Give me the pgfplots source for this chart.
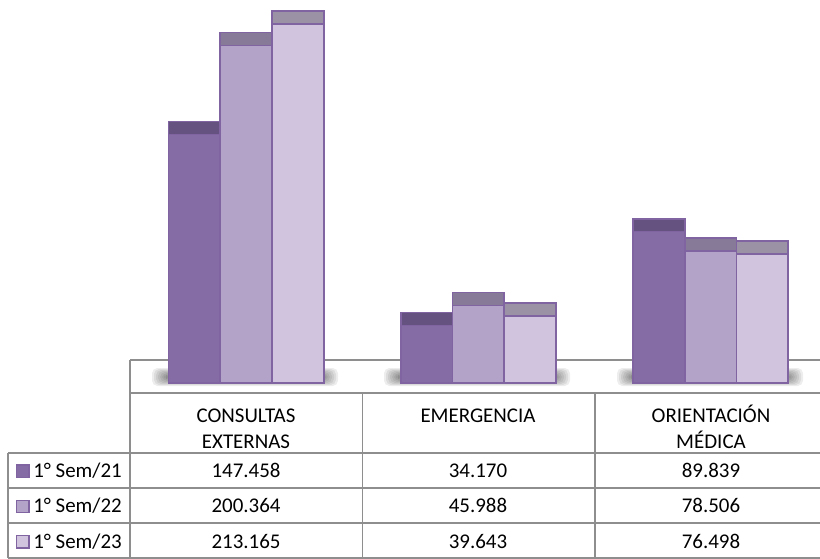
\documentclass[border=0pt]{standalone}
\usepackage{fontspec}
\setmainfont{Carlito}
\usepackage{pgfplots}
\usepackage{pgfplotstable}
\pgfplotsset{compat=1.18}

\definecolor{edge}{HTML}{8064A2}
\definecolor{sa}{HTML}{866CA5}
\definecolor{sb}{HTML}{B4A3C9}
\definecolor{sc}{HTML}{D0C4DE}
\definecolor{ca}{HTML}{665280}
\definecolor{cb}{HTML}{877A98}
\definecolor{cc}{HTML}{9C92A6}
\definecolor{rule}{HTML}{8E8E8E}

% values in thousands, first semester of each year
\pgfplotstableread{
x  s21     s22     s23
0  147.458 200.364 213.165
1  34.170  45.988  39.643
2  89.839  78.506  76.498
}\datos

\begin{document}
\begin{tikzpicture}[x=0.75pt,y=-0.75pt,
  every node/.style={inner sep=0pt,font=\fontsize{15.7}{19}\selectfont}]
\useasboundingbox (0,0) rectangle (820,559);

% floor of the 3d chart
\draw[rule, line width=1.2pt] (130,360) -- (822,360);
\draw[rule, line width=1.2pt] (130,360) -- (130,558);

% soft shadows under the groups
\foreach \c in {246,478,711} {
  \foreach \k in {0,1,...,7} {
    \fill[black, opacity=0.07, rounded corners=4pt]
      (\c-94+2*\k,368+\k) rectangle (\c+92-2*\k,386-\k);
  }
}

% axis corner at pixel (130,383)
\begin{axis}[at={(97.5pt,-287.25pt)}, anchor=south west,
    width=517.5pt, height=287.25pt, scale only axis,
    hide axis, clip=false,
    xmin=-0.5, xmax=2.471, ymin=0, ymax=227.3]
  % top faces (drawn first, the fronts cover their lower part)
  \addplot[ybar, bar width=0.223, bar shift=-0.223, fill=ca, draw=edge, line width=1.3pt]
    table[x=x, y expr=\thisrow{s21}+7.7] {\datos};
  \addplot[ybar, bar width=0.223, bar shift=0, fill=cb, draw=edge, line width=1.3pt]
    table[x=x, y expr=\thisrow{s22}+7.7] {\datos};
  \addplot[ybar, bar width=0.223, bar shift=0.223, fill=cc, draw=edge, line width=1.3pt]
    table[x=x, y expr=\thisrow{s23}+7.7] {\datos};
  % front faces
  \addplot[ybar, bar width=0.223, bar shift=-0.223, fill=sa, draw=edge, line width=1.3pt]
    table[x=x, y=s21] {\datos};
  \addplot[ybar, bar width=0.223, bar shift=0, fill=sb, draw=edge, line width=1.3pt]
    table[x=x, y=s22] {\datos};
  \addplot[ybar, bar width=0.223, bar shift=0.223, fill=sc, draw=edge, line width=1.3pt]
    table[x=x, y=s23] {\datos};
\end{axis}

% data table
\draw[rule, line width=1.2pt] (130,393) -- (822,393);
\foreach \y in {453,488,523,558} \draw[rule, line width=1.2pt] (8,\y) -- (822,\y);
\draw[rule, line width=1.2pt] (8,453) -- (8,558);
\draw[rule, line width=1.2pt] (362.5,393) -- (362.5,558);
\draw[rule, line width=1.2pt] (595,393) -- (595,558);

\node[anchor=base] at (246,422.7) {CONSULTAS};
\node[anchor=base] at (246,448.3) {EXTERNAS};
\node[anchor=base] at (478,422.7) {EMERGENCIA};
\node[anchor=base] at (711,422.7) {ORIENTACIÓN};
\node[anchor=base] at (711,448.3) {MÉDICA};

\node[anchor=base] at (246,477.3) {147.458};
\node[anchor=base] at (478,477.3) {34.170};
\node[anchor=base] at (711,477.3) {89.839};
\node[anchor=base] at (246,512.7) {200.364};
\node[anchor=base] at (478,512.7) {45.988};
\node[anchor=base] at (711,512.7) {78.506};
\node[anchor=base] at (246,548) {213.165};
\node[anchor=base] at (478,548) {39.643};
\node[anchor=base] at (711,548) {76.498};

% legend keys in the first column
\filldraw[fill=sa, draw=edge, line width=0.8pt] (16.5,465) rectangle (29,477.3);
\filldraw[fill=sb, draw=edge, line width=0.8pt] (16.5,500.4) rectangle (29,512.7);
\filldraw[fill=sc, draw=edge, line width=0.8pt] (16.5,535.7) rectangle (29,548);
\node[anchor=base west] at (33,477.3) {1° Sem/21};
\node[anchor=base west] at (33,512.7) {1° Sem/22};
\node[anchor=base west] at (33,548) {1° Sem/23};
\end{tikzpicture}
\end{document}
